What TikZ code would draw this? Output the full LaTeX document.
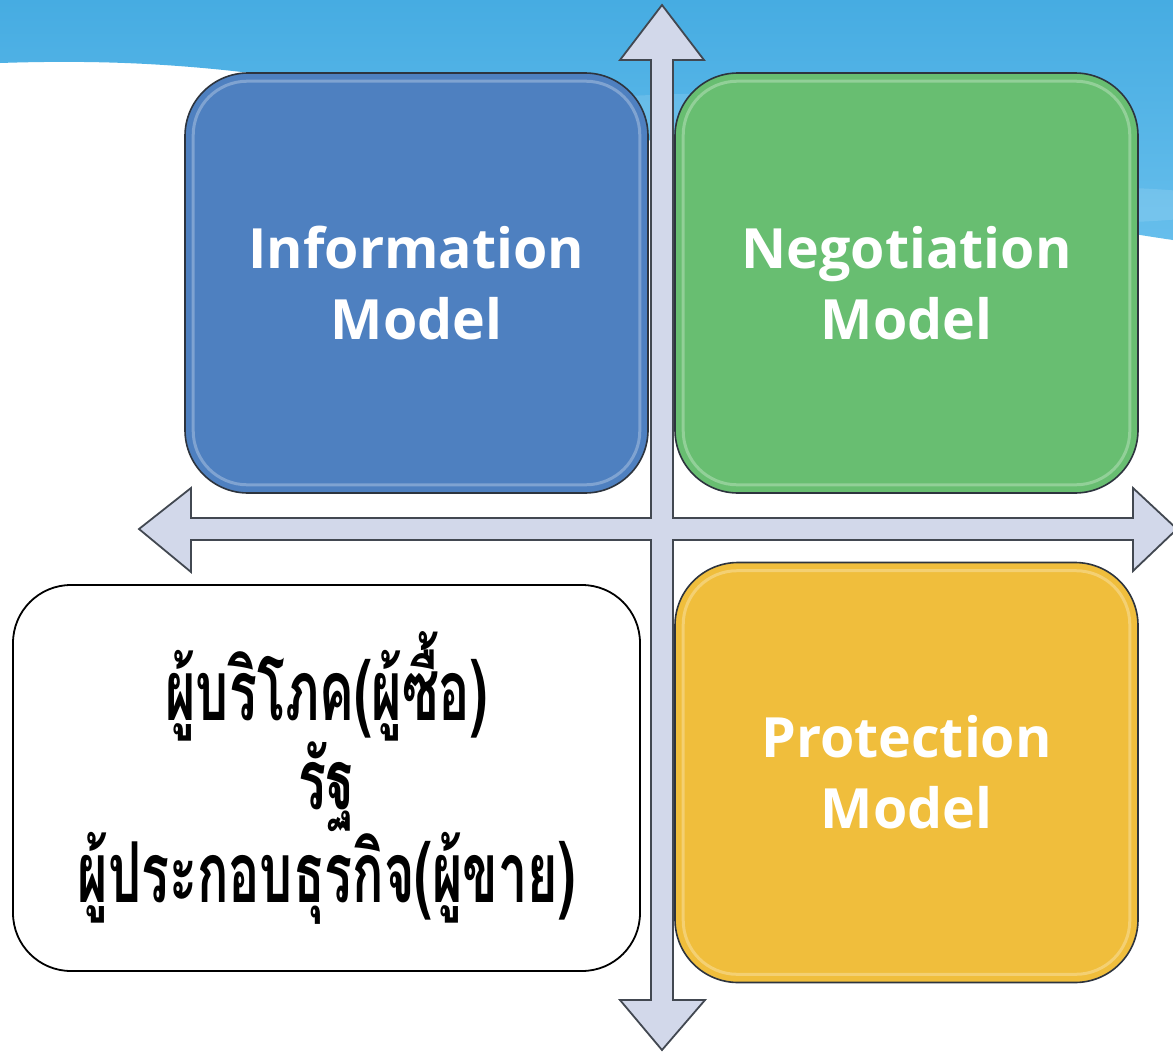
\documentclass[tikz,border=0pt]{standalone}
\usepackage{fontspec}
\setmainfont{Open Sans}
\newfontfamily\thaifont[Script=Thai,FakeStretch=0.62]{Loma}
\definecolor{skytop}{RGB}{70,172,226}
\definecolor{skybot}{RGB}{102,190,236}
\definecolor{boxblue}{RGB}{78,128,192}
\definecolor{boxgreen}{RGB}{104,190,113}
\definecolor{boxyellow}{RGB}{240,190,60}
\definecolor{arrowfill}{RGB}{210,216,234}
\definecolor{edgecol}{RGB}{45,52,62}
\tikzset{
  quadbox/.style={draw=edgecol, line width=1.6pt, rounded corners=63pt,
    minimum width=463pt, minimum height=420pt, inner sep=0pt,
    text=white, align=center, font=\bfseries\fontsize{55.5}{71}\selectfont},
  highlight/.style={draw=white, draw opacity=0.28, line width=3pt, rounded corners=54pt},
  thaibox/.style={draw=black, line width=1.8pt, rounded corners=58pt, fill=white,
    minimum width=627pt, minimum height=386pt, inner sep=0pt,
    align=center, font=\thaifont\bfseries\fontsize{84}{72}\selectfont},
  crossarrow/.style={fill=arrowfill, draw=edgecol!90, line width=1.8pt, line join=miter}
}
\begin{document}
\begin{tikzpicture}[x=1pt,y=-1pt]
\useasboundingbox (0,0) rectangle (1173,1052);
\fill[white] (0,0) rectangle (1173,1052);
% sky
\shade[top color=skytop, bottom color=skybot]
  (0,0) -- (1173,0) -- (1173,240)
  .. controls (1000,215) and (700,145) .. (400,95)
  .. controls (250,70) and (150,58) .. (0,63) -- cycle;
\fill[white, opacity=0.12] (760,115) ellipse (260pt and 22pt);
\fill[white, opacity=0.12] (1080,205) ellipse (160pt and 18pt);
% boxes
\node[quadbox, fill=boxblue] (info) at (416.5,283) {Information\\Model};
\node[quadbox, fill=boxgreen] (nego) at (906.5,283) {Negotiation\\Model};
\node[quadbox, fill=boxyellow] (prot) at (906.5,772.5) {Protection\\Model};
\draw[highlight] ([shift={(9,9)}]info.north west) rectangle ([shift={(-9,-9)}]info.south east);
\draw[highlight] ([shift={(9,9)}]nego.north west) rectangle ([shift={(-9,-9)}]nego.south east);
\draw[highlight] ([shift={(9,9)}]prot.north west) rectangle ([shift={(-9,-9)}]prot.south east);
\node[thaibox] (actors) at (326.5,778) {ผู้บริโภค(ผู้ซื้อ)\\รัฐ\\ผู้ประกอบธุรกิจ(ผู้ขาย)};
% cross arrow
\draw[crossarrow]
  (662,5) -- (704,60) -- (673,60) -- (673,518) -- (1133,518) -- (1133,488)
  -- (1177,529) -- (1133,571) -- (1133,540) -- (673,540) -- (673,1000)
  -- (705,1000) -- (662,1050) -- (620,1000) -- (651,1000) -- (651,540)
  -- (191,540) -- (191,572) -- (139,529) -- (191,488) -- (191,518)
  -- (651,518) -- (651,60) -- (620,60) -- cycle;
\end{tikzpicture}
\end{document}
